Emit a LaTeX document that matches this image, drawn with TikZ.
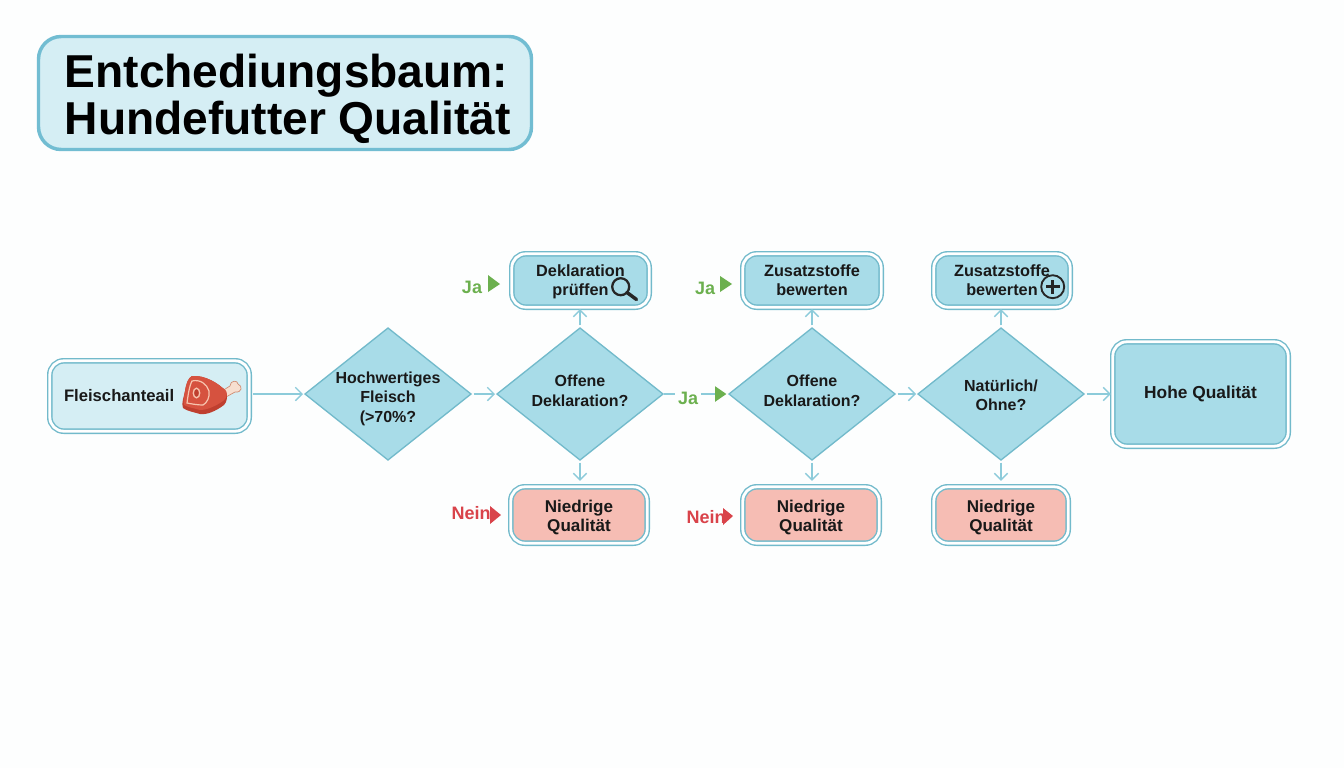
\documentclass[tikz,border=0pt]{standalone}
\usepackage{fontspec}
\setmainfont{Liberation Sans}
\usetikzlibrary{shapes.geometric,arrows.meta}
\definecolor{bgc}{HTML}{FDFEFE}
\definecolor{edgec}{HTML}{72BACB}
\definecolor{arrowc}{HTML}{8CCBDA}
\definecolor{titlec}{HTML}{72BDD2}
\definecolor{lightc}{HTML}{D5EEF4}
\definecolor{bluec}{HTML}{A8DCE8}
\definecolor{redc}{HTML}{F6BDB4}
\definecolor{jac}{HTML}{6CB04F}
\definecolor{neinc}{HTML}{D9434A}
\definecolor{meatc}{HTML}{D6523F}
\definecolor{meatd}{HTML}{BF3F2F}
\definecolor{fatc}{HTML}{F7C4AE}
\definecolor{bonec}{HTML}{F7DFD0}
\definecolor{boned}{HTML}{D08A70}
\newcommand{\mlines}[2]{\raisebox{#1}[0pt][0pt]{\makebox[0pt]{\begin{tabular}{@{}c@{}}#2\end{tabular}}}}
\tikzset{
  x=0.75pt,y=-0.75pt,
  size/.style 2 args={minimum width=#1*0.75pt,minimum height=#2*0.75pt},
  dbl/.style={draw=edgec,line width=1.05pt,double=white,double distance=2.1pt,rounded corners=10.5pt,inner sep=0pt,outer sep=0pt,align=center,font=\fontsize{12.2}{14.6}\selectfont\bfseries,text=black!90},
  bluebox/.style={dbl,fill=bluec,size={137.4}{53.4}},
  redbox/.style={dbl,fill=redc,size={136.4}{56.4},font=\fontsize{12.8}{14.6}\selectfont\bfseries},
  dia/.style={shape=diamond,aspect=1.25,draw=edgec,line width=1pt,fill=bluec,inner sep=0pt,outer sep=0pt,size={166}{132},font=\fontsize{12}{14.8}\selectfont\bfseries,text=black!90},
  conn/.style={draw=arrowc,line width=1pt,-{Straight Barb[length=5pt,width=10pt,line width=1pt]},shorten >=1.5pt,shorten <=2pt},
  connb/.style={conn,shorten >=4.5pt},
  jalabel/.style={text=jac,font=\fontsize{13.5}{16}\selectfont\bfseries,inner sep=2pt},
  neinlabel/.style={text=neinc,font=\fontsize{13.5}{16}\selectfont\bfseries,inner sep=0pt},
}
\begin{document}
\begin{tikzpicture}
\useasboundingbox (0,0) rectangle (1344,768);
\fill[bgc] (0,0) rectangle (1344,768);

% title
\node[draw=titlec,line width=2.6pt,fill=lightc,rounded corners=17pt,size={493}{113},inner sep=0pt,align=left,font=\fontsize{34.6}{35}\selectfont\bfseries,text=black] (title) at (285,93) {\hspace*{4pt}\rule{0pt}{34pt}Entchediungsbaum:\\\hspace*{4pt}Hundefutter Qualität};

% nodes
\node[dbl,fill=lightc,size={199.4}{70.4},text width=128.25pt,inner xsep=10.5pt,align=left,font=\fontsize{12.5}{14.6}\selectfont\bfseries] (fleisch) at (149.5,396) {Fleischanteail};
\node[dia] (d1) at (388,394) {\mlines{-6.7pt}{Hochwertiges\\Fleisch\\(>70\%?}};
\node[dia] (d2) at (580,394) {\mlines{-2pt}{Offene\\Deklaration?}};
\node[dia] (d3) at (812,394) {\mlines{-2pt}{Offene\\Deklaration?}};
\node[dia] (d4) at (1001,394) {\mlines{-5.2pt}{Natürlich/\\Ohne?}};
\node[bluebox] (t1) at (580.5,280.5) {\mlines{-4.2pt}{Deklaration\\prüffen}};
\node[bluebox,size={138.4}{53.4}] (t2) at (812,280.5) {\mlines{-4.2pt}{Zusatzstoffe\\bewerten}};
\node[bluebox,size={136.4}{53.4}] (t3) at (1002,280.5) {\mlines{-4.2pt}{Zusatzstoffe\\bewerten}};
\node[redbox] (b1) at (579,515) {\mlines{-5.5pt}{Niedrige\\Qualität}};
\node[redbox] (b2) at (811,515) {\mlines{-5.5pt}{Niedrige\\Qualität}};
\node[redbox,size={134.4}{56.4}] (b3) at (1001,515) {\mlines{-5.5pt}{Niedrige\\Qualität}};
\node[dbl,fill=bluec,size={175.4}{104.4},font=\fontsize{13}{15}\selectfont\bfseries] (hoch) at (1200.5,394) {Hohe Qualität};

% labels
\node[jalabel] (ja1) at (472,287) {Ja};
\node[jalabel] (ja2) at (705,288) {Ja};
\node[jalabel] (ja3) at (688,398) {Ja};
\node[neinlabel] (nein1) at (471,513) {Nein};
\node[neinlabel] (nein2) at (706,517) {Nein};

% connectors
\draw[conn,shorten <=3pt] (fleisch.east |- d1.west) -- (d1.west);
\draw[conn] (d1.east) -- (d2.west);
\draw[draw=arrowc,line width=1pt,shorten <=1pt] (d2.east) -- (d2.east -| ja3.west);
\draw[draw=arrowc,line width=1pt,-{Triangle[color=jac,length=8.5pt,width=11.5pt]},shorten >=2pt] (d3.west -| ja3.east) -- (d3.west);
\draw[conn] (d3.east) -- (d4.west);
\draw[conn] (d4.east) -- (hoch.west);
\draw[conn] (d2.north) -- (d2.north |- t1.south);
\draw[conn] (d3.north) -- (d3.north |- t2.south);
\draw[conn] (d4.north) -- (d4.north |- t3.south);
\draw[connb] (d2.south) -- (d2.south |- b1.north);
\draw[connb] (d3.south) -- (d3.south |- b2.north);
\draw[connb] (d4.south) -- (d4.south |- b3.north);

% label triangles
\fill[jac] (488,275) -- (500,284) -- (488,292) -- cycle;
\fill[jac] (720,276) -- (732,284) -- (720,292) -- cycle;
\fill[neinc] (490,506) -- (501,515) -- (490,524) -- cycle;
\fill[neinc] (723,508) -- (733,516) -- (723,525) -- cycle;

% magnifier
\draw[black!85,line width=1.7pt] (620.7,286.7) circle (8.5);
\draw[black!85,line width=2.6pt,line cap=round] (627,292.5) -- (636.5,299.5);
% plus
\draw[black!85,line width=1.4pt] (1052.7,286.7) circle (11.5);
\draw[black!85,line width=2.1pt] (1046,286.7) -- (1059.5,286.7) (1052.7,280) -- (1052.7,293.5);

% meat
\draw[draw=boned,fill=bonec,line width=.5pt] (222,391) -- (230,386) .. controls (230,380) and (238,380) .. (238,384) .. controls (243,386) and (242,393) .. (235,392) -- (226,397) -- cycle;
\fill[meatd] (192,376) .. controls (205,375) and (218,383) .. (226,391) .. controls (228,396) and (227,402) .. (224,405) .. controls (216,411) and (207,415) .. (200,414) .. controls (193,412) and (187,411) .. (183,408) .. controls (181,403) and (184,397) .. (185,391) .. controls (186,384) and (188,378) .. (192,376) -- cycle;
\fill[meatc] (192,376) .. controls (205,375) and (218,383) .. (226,391) .. controls (228,395) and (226,399) .. (223,401) .. controls (216,406) and (207,410) .. (200,410) .. controls (193,408) and (187,407) .. (184,405) .. controls (183,401) and (184,397) .. (185,391) .. controls (186,384) and (188,378) .. (192,376) -- cycle;
\draw[fatc,line width=.9pt] (192,381) .. controls (200,379) and (207,384) .. (209,391) .. controls (210,397) and (207,403) .. (203,405) .. controls (198,405) and (192,404) .. (187,403) .. controls (188,396) and (189,387) .. (192,381) -- cycle;
\draw[fill=meatd,draw=fatc,line width=1pt] (196.5,393) ellipse (3.2 and 4.8);
\end{tikzpicture}
\end{document}
